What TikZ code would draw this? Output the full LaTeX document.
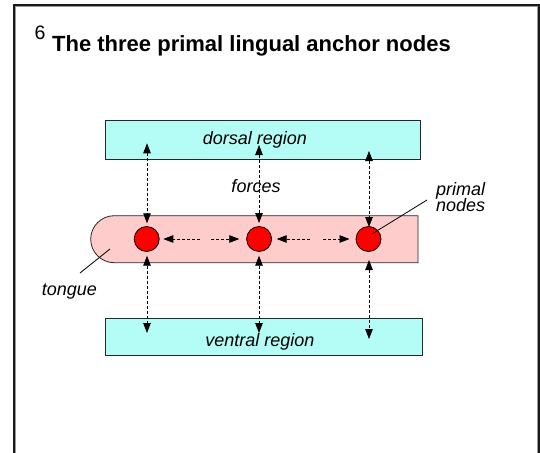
\documentclass[tikz,border=0pt]{standalone}
\usepackage{fontspec}
\setmainfont{Liberation Sans}
\usetikzlibrary{arrows.meta}
\definecolor{regioncyan}{RGB}{180,252,246}
\definecolor{tonguepink}{RGB}{255,204,204}
\definecolor{nodered}{RGB}{255,0,0}
\begin{document}
\begin{tikzpicture}[x=1pt,y=-1pt,
  region/.style={draw=black!85, line width=0.8pt, fill=regioncyan, inner sep=0pt},
  lab/.style={font=\fontsize{18}{18}\selectfont\itshape, inner sep=0pt},
  anchornode/.style={circle, draw=black, line width=0.8pt, fill=nodered, minimum size=25pt, inner sep=0pt},
  force/.style={line width=0.8pt, dash pattern=on 3pt off 2pt, {Triangle[length=10pt,width=7.5pt]}-{Triangle[length=10pt,width=7.5pt]}},
  halfforce/.style={dash pattern=on 3pt off 2pt, line width=0.8pt, -{Triangle[length=10pt,width=7.5pt]}},
  leader/.style={line width=0.8pt}
]
\useasboundingbox (0,0) rectangle (540,452);
% frame
\draw[black!40, line width=1pt] (15.8,460) -- (15.8,6.8) -- (537.2,6.8) -- (537.2,460);
\draw[black!90, line width=1.3pt] (14,460) -- (14,5) -- (539,5) -- (539,460);
% title
\node[font=\fontsize{19.5}{19.5}\selectfont, inner sep=0pt, anchor=base] (num) at (40,40) {6};
\node[font=\fontsize{22}{22}\selectfont\bfseries, inner sep=0pt, anchor=base west] (title) at (52,51.7) {The three primal lingual anchor nodes};
% regions
\node[region, minimum width=314.3pt, minimum height=39pt] (dorsal) at (262.85,139.5) {};
\node[lab, anchor=base] (dorsallab) at (255,144.3) {dorsal region};
\node[region, minimum width=317pt, minimum height=37.7pt] (ventral) at (264.2,336.85) {};
\node[lab, anchor=base] (ventrallab) at (260,346) {ventral region};
% tongue
\draw[line width=0.8pt, draw=black!85, fill=tonguepink] (418,215.7) -- (114.2,215.7) arc[start angle=270, end angle=90, radius=23.5] -- (418,262.7) -- cycle;
% primal nodes
\node[anchornode] (c1) at (146.7,239) {};
\node[anchornode] (c2) at (259.1,239) {};
\node[anchornode] (c3) at (368.5,239) {};
% end points of forces
\coordinate (d1) at (147,143.3);
\coordinate (d2) at (259,145);
\coordinate (d3) at (369,151);
\coordinate (u1) at (147,223.3);
\coordinate (u2) at (259,223);
\coordinate (u3) at (369,227);
\coordinate (l1) at (147,255.7);
\coordinate (l2) at (259,255.7);
\coordinate (l3) at (369,260);
\coordinate (v1) at (147,333);
\coordinate (v2) at (259,333);
\coordinate (v3) at (369,339);
\draw[force] (d1) -- (u1);
\draw[force] (d2) -- (u2);
\draw[force] (d3) -- (u3);
\draw[force] (l1) -- (v1);
\draw[force] (l2) -- (v2);
\draw[force] (l3) -- (v3);
% horizontal forces
\coordinate (h1a) at (200,239);
\coordinate (h1b) at (163.3,239);
\coordinate (h2a) at (211,239);
\coordinate (h2b) at (239.3,239);
\coordinate (h3a) at (310,239);
\coordinate (h3b) at (276.7,239);
\coordinate (h4a) at (323,239);
\coordinate (h4b) at (349.5,239);
\draw[halfforce] (h1a) -- (h1b);
\draw[halfforce] (h2a) -- (h2b);
\draw[halfforce] (h3a) -- (h3b);
\draw[halfforce] (h4a) -- (h4b);
\node[lab, anchor=base] (forceslab) at (256,192.7) {forces};
% labels with leaders
\node[lab, anchor=base] (tonguelab) at (69.4,295) {tongue};
\coordinate (t1) at (110,249);
\coordinate (t2) at (80,273);
\draw[leader] (t1) -- (t2);
\node[lab, anchor=base west] (primallab) at (436,195.5) {primal};
\node[lab, anchor=base west] (nodeslab) at (436,211.7) {nodes};
\coordinate (p1) at (372.7,233.5);
\coordinate (p2) at (427,200);
\draw[leader] (p1) -- (p2);
\end{tikzpicture}
\end{document}
